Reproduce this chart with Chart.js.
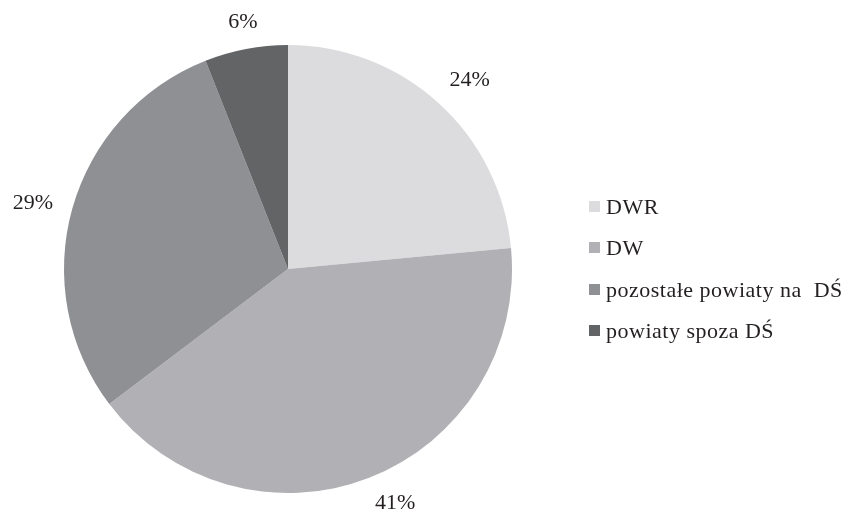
<!DOCTYPE html>
<html>
<head>
<meta charset="utf-8">
<script src="https://cdn.jsdelivr.net/npm/chart.js@4"></script>
<style>
  html, body { margin: 0; padding: 0; background: #fff; }
  #wrap { position: relative; width: 853px; height: 516px; }
  #legend { position: absolute; left: 589px; top: 186px; font: 22px "Liberation Serif", "Times New Roman", serif; letter-spacing: 0.5px; color: #231f20; }
  #legend div { height: 41.3px; line-height: 41.3px; white-space: pre; }
  #legend span { display: inline-block; width: 11px; height: 11px; margin-right: 6px; vertical-align: 2px; }
</style>
</head>
<body>
<div id="wrap">
  <canvas id="pieChart" width="853" height="516"></canvas>
  <div id="legend"></div>
</div>
<script>
// data
const categories = ['DWR', 'DW', 'pozostałe powiaty na  DŚ', 'powiaty spoza DŚ'];
const shares = [23.5, 41.2, 29.3, 6.0];
const shareLabels = ['24%', '41%', '29%', '6%'];
const sliceColors = ['#dcdcde', '#b1b1b5', '#8f9094', '#636466'];

const FONT = '"Liberation Serif", "Times New Roman", serif';

// percentage labels just outside each slice
const outsideLabels = {
  id: 'outsideLabels',
  afterDraw(chart) {
    const ctx = chart.ctx;
    const arcs = chart.getDatasetMeta(0).data;
    ctx.save();
    ctx.font = '22px ' + FONT;
    ctx.fillStyle = '#231f20';
    arcs.forEach((arc, i) => {
      const mid = (arc.startAngle + arc.endAngle) / 2;
      const c = Math.cos(mid), s = Math.sin(mid);
      const r = arc.outerRadius + (Math.abs(c) > 0.8 ? 20 : 16);
      const x = arc.x + c * r;
      const y = arc.y + s * r;
      ctx.textAlign = c > 0.3 ? 'left' : (c < -0.3 ? 'right' : 'center');
      ctx.textBaseline = s > 0.3 ? 'top' : (s < -0.3 ? 'bottom' : 'middle');
      ctx.fillText(shareLabels[i], x, y);
    });
    ctx.restore();
  }
};

function buildLegend() {
  const box = document.getElementById('legend');
  categories.forEach((name, i) => {
    const row = document.createElement('div');
    const sw = document.createElement('span');
    sw.style.background = sliceColors[i];
    row.appendChild(sw);
    row.appendChild(document.createTextNode(name));
    box.appendChild(row);
  });
}

function draw() {
  buildLegend();
  new Chart(document.getElementById('pieChart').getContext('2d'), {
    type: 'pie',
    data: {
      labels: categories,
      datasets: [{
        data: shares,
        backgroundColor: sliceColors,
        borderWidth: 0
      }]
    },
    options: {
      responsive: false,
      animation: false,
      layout: { padding: { top: 45, bottom: 23, left: 64, right: 341 } },
      plugins: {
        tooltip: { enabled: false },
        legend: { display: false }
      }
    },
    plugins: [outsideLabels]
  });
}

document.fonts.load('22px "Liberation Serif"').then(draw, draw);
</script>
</body>
</html>
